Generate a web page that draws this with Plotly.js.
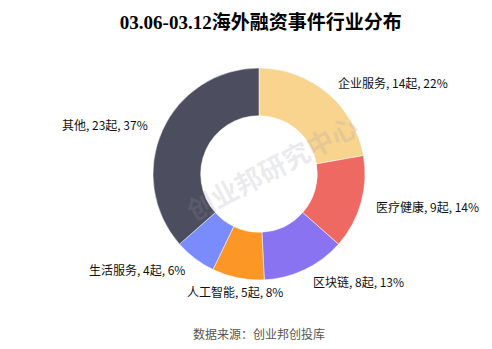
<!DOCTYPE html>
<html>
<head>
<meta charset="utf-8">
<script src="https://cdn.plot.ly/plotly-3.0.1.min.js"></script>
<style>html,body{margin:0;padding:0;background:#fff;}#chart{width:492px;height:349px;}</style>
</head>
<body>
<div id="chart"></div>
<script>
var categories = ['企业服务', '医疗健康', '区块链', '人工智能', '生活服务', '其他'];
var counts = [14, 9, 8, 5, 4, 23];
var colors = ['#F8D48F', '#EF6963', '#8A73F0', '#FC9726', '#7A8BFC', '#4C4D5E'];
var titleText = '03.06-03.12海外融资事件行业分布';
var sourceText = '数据来源：创业邦创投库';
var watermarkText = '创业邦研究中心';

var W = 492, H = 349;
var M = {l: 153, r: 127, t: 68, b: 69};
var plotW = W - M.l - M.r, plotH = H - M.t - M.b;
var labelRadius = 0.565; // in units of the pie diameter (domain size)

var total = counts.reduce(function (a, b) { return a + b; }, 0);

// outside labels, placed at each slice's middle angle (clockwise from 12 o'clock)
var labelAnnotations = [];
var acc = 0;
categories.forEach(function (cat, i) {
  var mid = (acc + counts[i] / 2) / total * 2 * Math.PI;
  acc += counts[i];
  var dx = Math.sin(mid), dy = Math.cos(mid);
  var pct = Math.round(counts[i] / total * 100);
  labelAnnotations.push({
    text: cat + ', ' + counts[i] + '起, ' + pct + '%',
    xref: 'paper', yref: 'paper',
    x: 0.5 + dx * labelRadius, y: 0.5 + dy * labelRadius,
    xanchor: Math.abs(dx) < 0.25 ? 'center' : (dx > 0 ? 'left' : 'right'),
    yanchor: 'middle', showarrow: false,
    font: {family: 'Noto Sans CJK SC, Noto Sans, sans-serif', size: 12, color: '#111111'}
  });
});

var trace = {
  type: 'pie',
  labels: categories,
  values: counts,
  hole: 0.55,
  sort: false,
  direction: 'clockwise',
  rotation: 0,
  marker: {colors: colors, line: {color: '#ffffff', width: 0.5}},
  textinfo: 'none',
  hoverinfo: 'none',
  showlegend: false
};

var layout = {
  width: W, height: H,
  margin: M,
  paper_bgcolor: '#ffffff',
  title: {
    text: '<b>' + titleText + '</b>',
    x: 0.53, xanchor: 'center', y: 0.935, yanchor: 'middle',
    font: {family: 'Liberation Serif, Noto Sans CJK SC, serif', size: 19, color: '#000000'}
  },
  annotations: labelAnnotations.concat([
    {text: sourceText, xref: 'paper', yref: 'paper', x: 0.5, y: -0.25, xanchor: 'center', yanchor: 'middle',
     showarrow: false, font: {family: 'Noto Sans CJK SC, sans-serif', size: 12, color: '#555555'}},
    {text: '<b>' + watermarkText + '</b>', xref: 'paper', yref: 'paper', x: 0.557, y: 0.533, xanchor: 'center', yanchor: 'middle',
     showarrow: false, textangle: -28, font: {family: 'Noto Sans CJK SC, sans-serif', size: 27, color: 'rgba(150,150,165,0.2)'}}
  ])
};

Plotly.newPlot('chart', [trace], layout, {displayModeBar: false, staticPlot: true});
</script>
</body>
</html>
